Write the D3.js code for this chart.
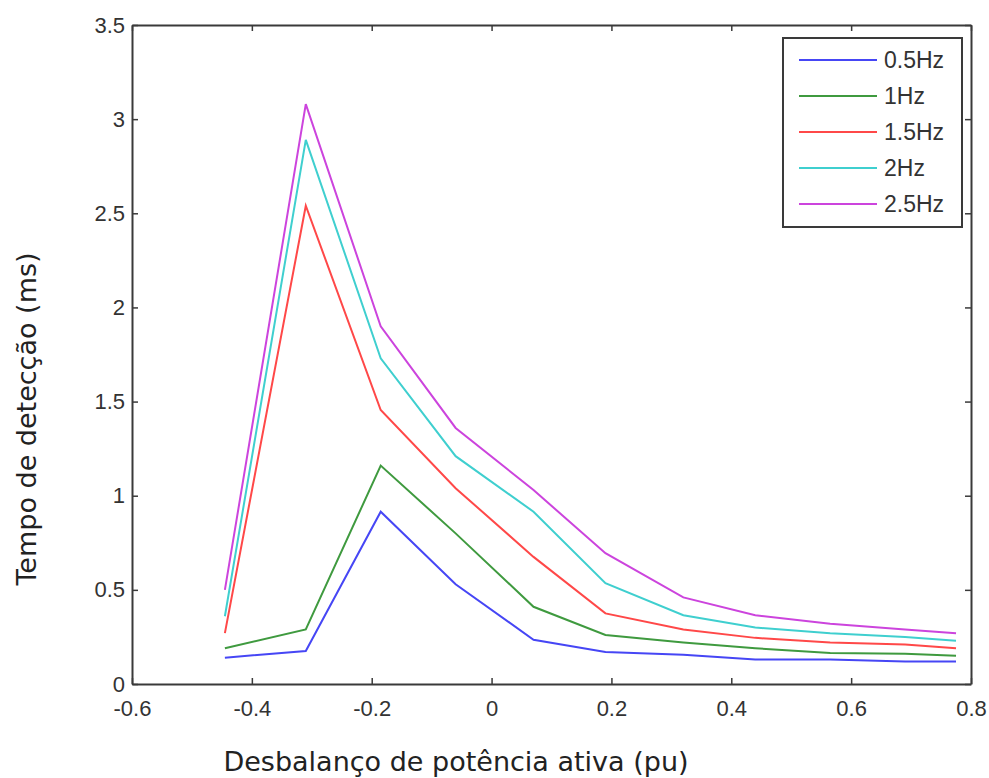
<!DOCTYPE html>
<html>
<head>
<meta charset="utf-8">
<script src="https://cdn.jsdelivr.net/npm/d3@7"></script>
<style>
  html, body { margin: 0; padding: 0; background: #fff; }
  svg { display: block; }
</style>
</head>
<body>
<svg id="chart" width="989" height="778"></svg>
<script>
// ---- data ----
const xValues = [-0.445, -0.31, -0.185, -0.06, 0.07, 0.19, 0.32, 0.44, 0.565, 0.69, 0.775];
const seriesNames = ["0.5Hz", "1Hz", "1.5Hz", "2Hz", "2.5Hz"];
const s05 = [0.14, 0.175, 0.915, 0.53, 0.235, 0.17, 0.155, 0.13, 0.13, 0.12, 0.12];
const s10 = [0.19, 0.29, 1.16, 0.80, 0.41, 0.26, 0.22, 0.19, 0.165, 0.16, 0.15];
const s15 = [0.27, 2.54, 1.455, 1.04, 0.675, 0.375, 0.29, 0.245, 0.22, 0.21, 0.19];
const s20 = [0.36, 2.89, 1.73, 1.21, 0.915, 0.535, 0.365, 0.30, 0.27, 0.25, 0.23];
const s25 = [0.50, 3.08, 1.90, 1.36, 1.03, 0.695, 0.46, 0.365, 0.32, 0.29, 0.27];
const seriesValues = [s05, s10, s15, s20, s25];
const seriesColors = ["#4646f5", "#3f9a3f", "#ff4848", "#3fcfcf", "#cc44dd"];
const xTicks = [-0.6, -0.4, -0.2, 0, 0.2, 0.4, 0.6, 0.8];
const yTicks = [0, 0.5, 1, 1.5, 2, 2.5, 3, 3.5];
const xLabel = "Desbalanço de potência ativa (pu)";
const yLabel = "Tempo de detecção (ms)";

// ---- layout ----
const svg = d3.select("#chart");
const L = 132, R = 971, T = 25, B = 684;
const x = d3.scaleLinear().domain([-0.6, 0.8]).range([L, R]);
const y = d3.scaleLinear().domain([0, 3.5]).range([B, T]);
const axisColor = "#3a3a3a";
const tickFont = "'Liberation Sans', Arial, sans-serif";

// lines
const line = d3.line().x((d, i) => x(xValues[i])).y(d => y(d));
seriesValues.forEach((vals, k) => {
  svg.append("path")
    .datum(vals)
    .attr("d", line)
    .attr("fill", "none")
    .attr("stroke", seriesColors[k])
    .attr("stroke-width", 2)
    .attr("stroke-linejoin", "miter");
});

// axes
const fmt = d => String(d);
const gBottom = svg.append("g").attr("transform", `translate(0,${B})`)
  .call(d3.axisBottom(x).tickValues(xTicks).tickSizeInner(-6).tickSizeOuter(0).tickPadding(16).tickFormat(fmt));
const gTop = svg.append("g").attr("transform", `translate(0,${T})`)
  .call(d3.axisTop(x).tickValues(xTicks).tickSizeInner(-6).tickSizeOuter(0).tickFormat(""));
const gLeft = svg.append("g").attr("transform", `translate(${L},0)`)
  .call(d3.axisLeft(y).tickValues(yTicks).tickSizeInner(-6).tickSizeOuter(0).tickPadding(7).tickFormat(fmt));
const gRight = svg.append("g").attr("transform", `translate(${R},0)`)
  .call(d3.axisRight(y).tickValues(yTicks).tickSizeInner(-6).tickSizeOuter(0).tickFormat(""));

[gBottom, gTop, gLeft, gRight].forEach(g => {
  g.select(".domain").attr("stroke", axisColor).attr("stroke-width", 2);
  g.selectAll(".tick line").attr("stroke", axisColor).attr("stroke-width", 1.5);
  g.selectAll(".tick text").attr("fill", "#333").style("font-family", tickFont).style("font-size", "22px");
});

// axis labels
svg.append("text")
  .attr("x", 456).attr("y", 771)
  .attr("text-anchor", "middle")
  .style("font-family", "'DejaVu Sans', Verdana, sans-serif")
  .style("font-size", "27px")
  .attr("fill", "#222")
  .text(xLabel);
svg.append("text")
  .attr("transform", `translate(36,419) rotate(-90)`)
  .attr("text-anchor", "middle")
  .style("font-family", "'DejaVu Sans', Verdana, sans-serif")
  .style("font-size", "27px")
  .attr("fill", "#222")
  .text(yLabel);

// legend
const lg = svg.append("g");
lg.append("rect")
  .attr("x", 783).attr("y", 38).attr("width", 179).attr("height", 189)
  .attr("fill", "#fff").attr("stroke", axisColor).attr("stroke-width", 2);
seriesNames.forEach((name, k) => {
  const yy = 60 + k * 36;
  lg.append("line")
    .attr("x1", 799).attr("x2", 877).attr("y1", yy).attr("y2", yy)
    .attr("stroke", seriesColors[k]).attr("stroke-width", 2);
  lg.append("text")
    .attr("x", 884).attr("y", yy + 8)
    .style("font-family", tickFont).style("font-size", "23px")
    .attr("fill", "#333")
    .text(name);
});
</script>
</body>
</html>
